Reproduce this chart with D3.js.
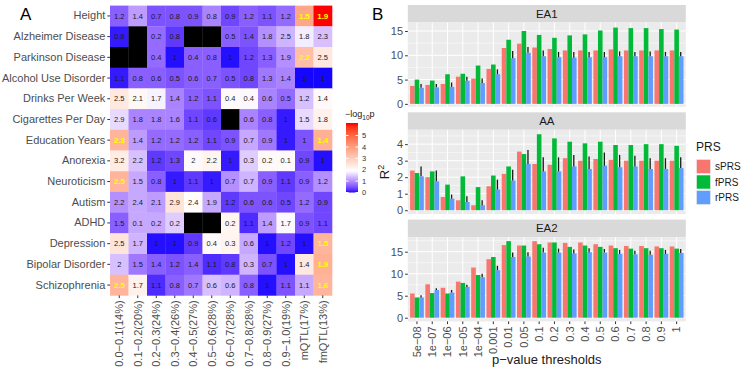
<!DOCTYPE html>
<html>
<head>
<meta charset="utf-8">
<script src="https://cdn.jsdelivr.net/npm/d3@7"></script>
<style>
  body { margin: 0; background: white; }
  text { font-family: "Liberation Sans", Arial, sans-serif; }
</style>
</head>
<body>
<div id="chart"></div>
<script>
// Panel A data
var traits = ["Height", "Alzheimer Disease", "Parkinson Disease", "Alcohol Use Disorder",
  "Drinks Per Week", "Cigarettes Per Day", "Education Years", "Anorexia", "Neuroticism",
  "Autism", "ADHD", "Depression", "Bipolar Disorder", "Schizophrenia"];

var bins = ["0.0−0.1(14%)", "0.1−0.2(20%)", "0.2−0.3(24%)", "0.3−0.4(26%)", "0.4−0.5(27%)",
  "0.5−0.6(28%)", "0.6−0.7(28%)", "0.7−0.8(28%)", "0.8−0.9(27%)", "0.9−1.0(19%)",
  "mQTL(17%)", "fmQTL(13%)"];

// number printed in the cell (null = no data)
var foldValues = [
  [1.2, 1.4, 0.7, 0.8, 0.9, 0.8, 0.9, 1.2, 1.1, 1.2, 1.5, 1.9],
  [0.8, null, 0.2, 0.8, null, null, 0.5, 1.4, 1.8, 2.5, 1.8, 2.3],
  [null, null, 0.4, 1, 0.4, 0.8, 1, 1.2, 1.3, 1.9, 2.2, 2.5],
  [1.1, 0.8, 0.6, 0.5, 0.6, 0.7, 0.5, 0.8, 1.3, 1.4, 1, 1],
  [2.5, 2.1, 1.7, 1.4, 1.2, 1.1, 0.4, 0.4, 0.6, 0.5, 1.2, 1.4],
  [2.9, 1.8, 1.8, 1.6, 1.1, 0.6, null, 0.6, 0.8, 1, 1.5, 1.8],
  [2.3, 1.4, 1.2, 1.2, 1.2, 1.1, 0.9, 0.7, 0.9, 1, 1, 1.4],
  [3.2, 2.2, 1.2, 1.3, 2, 2.2, 1, 0.3, 0.2, 0.1, 0.9, 1],
  [2.5, 1.5, 0.8, 1, 1.1, 1, 0.7, 0.7, 0.9, 1.1, 0.9, 1.2],
  [2.2, 2.4, 2.1, 2.9, 2.4, 1.9, 1.2, 0.6, 0.6, 0.5, 1.2, 0.9],
  [1.5, 0.1, 0.2, 0.2, null, null, 0.2, 1.1, 1.4, 1.7, 0.9, 1.1],
  [2.5, 1.7, 1, 1, 0.9, 0.4, 0.3, 0.6, 1, 1.2, 1, 1.5],
  [2, 1.5, 1.4, 1.2, 1.4, 1.1, 0.8, 0.3, 0.7, 1, 1.4, 1.9],
  [2.5, 1.7, 1.1, 0.8, 0.7, 0.6, 0.6, 0.8, 1, 1.1, 1.1, 1.6]
];

// -log10 p (cell colour)
var logP = [
  [0.6, 1.1, 0.5, 0.5, 0.5, 0.9, 0.4, 0.6, 0.5, 0.7, 3.8, 6.0],
  [0.1, null, 0.7, 0.3, null, null, 0.6, 0.5, 1.0, 1.3, 1.75, 1.4],
  [null, null, 0.7, 0.05, 0.6, 0.6, 0.05, 0.4, 0.6, 1.0, 3.3, 2.4],
  [0.1, 0.6, 0.6, 0.5, 0.6, 0.6, 0.5, 0.4, 0.8, 0.9, 0.02, 0.02],
  [2.4, 2.05, 1.8, 0.9, 0.6, 0.5, 2.0, 1.85, 0.9, 0.7, 1.4, 2.0],
  [1.6, 0.9, 0.9, 0.9, 0.4, 0.3, null, 0.9, 0.6, 0.1, 1.6, 2.2],
  [3.5, 1.1, 0.7, 0.7, 0.6, 0.4, 0.5, 1.2, 0.8, 0.1, 0.5, 3.6],
  [2.3, 1.4, 0.3, 0.4, 2.0, 2.15, 0.1, 1.5, 2.0, 2.0, 0.4, 0.05],
  [3.5, 1.2, 0.6, 0.1, 0.3, 0.1, 1.0, 1.3, 0.6, 0.3, 0.6, 1.0],
  [1.0, 1.2, 1.1, 2.5, 1.95, 1.2, 0.3, 0.5, 0.5, 0.4, 0.7, 0.4],
  [0.6, 1.2, 1.2, 1.5, null, null, 2.1, 0.2, 1.1, 1.85, 0.5, 0.4],
  [2.5, 1.3, 0.05, 0.05, 0.3, 2.0, 2.15, 1.2, 0.05, 0.4, 0.05, 3.5],
  [1.4, 0.8, 0.6, 0.5, 0.6, 0.2, 0.3, 1.3, 0.5, 0.05, 2.4, 3.6],
  [3.5, 2.2, 0.2, 0.6, 0.8, 1.4, 1.3, 0.6, 0.05, 0.5, 1.2, 3.5]
];
var legendTicks = [0, 1, 2, 3, 4, 5];

// Panel B data
var thresholds = ["5e−08", "1e−07", "1e−06", "1e−05", "1e−04", "0.001", "0.01", "0.05",
  "0.1", "0.2", "0.3", "0.4", "0.5", "0.6", "0.7", "0.8", "0.9", "1"];
var prsTypes = ["sPRS", "fPRS", "rPRS"];
var cohorts = ["EA1", "AA", "EA2"];

var ea1_s = [3.7, 3.9, 4.1, 5.6, 5.2, 7.2, 11.5, 12.4, 11.6, 11.3, 11.0, 11.0, 11.0, 11.2, 11.0, 11.0, 11.0, 11.0];
var ea1_f = [5.0, 4.8, 6.1, 6.2, 7.9, 8.1, 13.2, 15.0, 14.2, 13.6, 14.1, 14.3, 15.1, 15.7, 15.6, 15.6, 15.4, 15.3];
var ea1_r = [3.3, 3.4, 3.5, 4.75, 4.3, 6.1, 9.4, 10.5, 9.8, 9.6, 9.5, 9.6, 9.6, 9.8, 9.8, 9.8, 9.8, 9.8];
var ea1_rTop = [4.1, 4.1, 4.4, 5.6, 5.2, 7.1, 10.9, 11.7, 11.0, 10.7, 10.7, 10.7, 10.7, 10.8, 10.7, 10.8, 10.7, 10.7];

var aa_s = [2.4, 2.0, 0.8, 0.6, 0.3, 1.45, 2.2, 3.55, 2.8, 2.75, 3.15, 3.0, 3.1, 3.05, 3.0, 3.0, 3.0, 3.0];
var aa_f = [2.25, 2.35, 1.55, 2.05, 1.4, 2.1, 2.65, 3.4, 4.6, 4.35, 4.15, 4.05, 4.15, 3.95, 3.95, 4.0, 4.0, 3.9];
var aa_r = [2.05, 1.75, 0.7, 0.5, 0.3, 1.25, 1.8, 2.8, 2.35, 2.35, 2.65, 2.5, 2.7, 2.6, 2.65, 2.5, 2.5, 2.55];
var aa_rTop = [2.65, 2.4, 0.95, 0.85, 0.6, 1.85, 2.45, 3.65, 3.2, 3.2, 3.35, 3.25, 3.5, 3.35, 3.3, 3.15, 3.15, 3.2];

var ea2_s = [5.5, 7.6, 6.8, 8.2, 11.4, 13.3, 16.5, 16.4, 17.4, 17.1, 17.0, 17.1, 16.7, 16.4, 16.3, 16.3, 16.2, 16.2];
var ea2_f = [4.6, 5.6, 5.5, 7.9, 9.7, 13.8, 17.4, 16.4, 16.7, 17.1, 16.1, 16.4, 16.1, 15.8, 15.7, 15.8, 15.8, 15.7];
var ea2_r = [4.6, 6.3, 5.7, 7.0, 9.2, 10.8, 13.8, 13.9, 14.8, 14.8, 14.6, 14.9, 14.8, 14.5, 14.4, 14.3, 14.5, 14.7];
var ea2_rTop = [5.1, 6.7, 6.3, 7.5, 10.0, 11.8, 14.8, 14.9, 15.9, 15.7, 15.5, 15.8, 15.6, 15.4, 15.2, 15.2, 15.4, 15.6];

var W = 747, H = 369;
var svg = d3.select("#chart").append("svg")
    .attr("width", W)
    .attr("height", H)
    .style("background-color", "white");

var axisGrey = "#4D4D4D", tickGrey = "#333333";

/* ---------- Panel A: heatmap ---------- */
var hm = {left: 110, top: 5.6, right: 332, bottom: 295.4};

var xHm = d3.scaleBand().domain(bins).range([hm.left, hm.right]);
var yHm = d3.scaleBand().domain(traits).range([hm.top, hm.bottom]);
var fill = d3.scaleLinear()
    .domain([0, 1.9, 6])
    .range(["#0000FF", "#FFFFFF", "#FF0000"])
    .interpolate(d3.interpolateLab)
    .clamp(true);

var cells = [];
traits.forEach(function(t, i) {
  bins.forEach(function(b, j) {
    cells.push({trait: t, bin: b, v: foldValues[i][j], p: logP[i][j]});
  });
});

var gA = svg.append("g");
gA.selectAll("rect.cell")
  .data(cells)
  .enter().append("rect")
    .attr("class", "cell")
    .attr("x", function(d) { return xHm(d.bin); })
    .attr("y", function(d) { return yHm(d.trait); })
    .attr("width", xHm.bandwidth() + 0.3)
    .attr("height", yHm.bandwidth() + 0.3)
    .attr("fill", function(d) { return d.p === null ? "#000000" : fill(d.p); });

gA.selectAll("text.val")
  .data(cells.filter(function(d) { return d.v !== null; }))
  .enter().append("text")
    .attr("class", "val")
    .attr("x", function(d) { return xHm(d.bin) + xHm.bandwidth() / 2; })
    .attr("y", function(d) { return yHm(d.trait) + yHm.bandwidth() / 2; })
    .attr("dy", "0.35em")
    .attr("text-anchor", "middle")
    .style("font-size", function(d) { return d.p > 3 ? "8px" : "7.5px"; })
    .style("font-weight", function(d) { return d.p > 3 ? "bold" : "normal"; })
    .attr("fill", function(d) { return d.p > 3 ? "#FFFF00" : "#1A1A1A"; })
    .text(function(d) { return d.v; });

var yAxisA = gA.append("g")
    .attr("transform", "translate(" + hm.left + ",0)")
    .call(d3.axisLeft(yHm).tickSize(2.7).tickPadding(2));
yAxisA.select(".domain").remove();
yAxisA.selectAll("line").attr("stroke", tickGrey);
yAxisA.selectAll("text").attr("fill", axisGrey).style("font-size", "11px")
    .style("font-family", "Liberation Sans, Arial, sans-serif");

var xAxisA = gA.append("g")
    .attr("transform", "translate(0," + hm.bottom + ")")
    .call(d3.axisBottom(xHm).tickSize(2.7).tickPadding(2));
xAxisA.select(".domain").remove();
xAxisA.selectAll("line").attr("stroke", tickGrey);
xAxisA.selectAll("text")
    .attr("fill", axisGrey)
    .style("font-size", "11px")
    .style("font-family", "Liberation Sans, Arial, sans-serif")
    .attr("text-anchor", "end")
    .attr("transform", "rotate(-90)")
    .attr("x", -5)
    .attr("y", 0)
    .attr("dy", "0.35em");

svg.append("text").attr("x", 20).attr("y", 20)
    .style("font-size", "17px").text("A");

// colour bar
var lgScale = d3.scaleLinear().domain([0, 6.1]).range([192.5, 123]);
var grad = svg.append("defs").append("linearGradient")
    .attr("id", "lgGrad").attr("x1", 0).attr("y1", 1).attr("x2", 0).attr("y2", 0);
d3.range(0, 6.11, 0.1).forEach(function(v) {
  grad.append("stop").attr("offset", v / 6.1).attr("stop-color", fill(v));
});
svg.append("rect")
    .attr("x", 346).attr("y", lgScale(6.1))
    .attr("width", 12).attr("height", lgScale(0) - lgScale(6.1))
    .attr("fill", "url(#lgGrad)");
legendTicks.forEach(function(t) {
  svg.append("line").attr("x1", 346).attr("x2", 348.5)
      .attr("y1", lgScale(t)).attr("y2", lgScale(t)).attr("stroke", "white");
  svg.append("line").attr("x1", 355.5).attr("x2", 358)
      .attr("y1", lgScale(t)).attr("y2", lgScale(t)).attr("stroke", "white");
  svg.append("text").attr("x", 362).attr("y", lgScale(t)).attr("dy", "0.35em")
      .style("font-size", "7.5px").attr("fill", "#333").text(t);
});
var lgTitle = svg.append("text").attr("x", 345).attr("y", 117)
    .style("font-size", "9px").attr("fill", "#1A1A1A");
lgTitle.append("tspan").text("−log");
lgTitle.append("tspan").attr("dy", 2.5).style("font-size", "6.5px").text("10");
lgTitle.append("tspan").attr("dy", -2.5).text("p");

/* ---------- Panel B: faceted bars ---------- */
var bLeft = 407.8, bRight = 685.8;
var x = d3.scaleBand().domain(thresholds).range([bLeft, bRight]).paddingInner(0).paddingOuter(0.1);
var step = x.step(), barW = step * 0.3;
var color = d3.scaleOrdinal().domain(prsTypes).range(["#F8766D", "#00BA38", "#619CFF"]);

var panels = [
  {name: "EA1", top: 5, s: ea1_s, f: ea1_f, r: ea1_r, rTop: ea1_rTop, domain: [-0.6, 16.75], ticks: [0, 5, 10, 15], minor: [2.5, 7.5, 12.5]},
  {name: "AA", top: 112.3, s: aa_s, f: aa_f, r: aa_r, rTop: aa_rTop, domain: [-0.236, 4.87], ticks: [0, 1, 2, 3, 4], minor: [0.5, 1.5, 2.5, 3.5, 4.5]},
  {name: "EA2", top: 219.6, s: ea2_s, f: ea2_f, r: ea2_r, rTop: ea2_rTop, domain: [-0.84, 18.32], ticks: [0, 5, 10, 15], minor: [2.5, 7.5, 12.5, 17.5]}
];
var stripH = 17.5, plotH = 84.3;

panels.forEach(function(p, k) {
  var g = svg.append("g");
  var pTop = p.top + stripH;
  var yScale = d3.scaleLinear().domain(p.domain).range([pTop + plotH, pTop]);

  g.append("rect").attr("x", bLeft).attr("y", p.top)
      .attr("width", bRight - bLeft).attr("height", stripH).attr("fill", "#D9D9D9");
  g.append("text").attr("x", (bLeft + bRight) / 2).attr("y", p.top + stripH / 2)
      .attr("dy", "0.35em").attr("text-anchor", "middle")
      .style("font-size", "11.5px").attr("fill", "#1A1A1A").text(p.name);

  g.append("rect").attr("x", bLeft).attr("y", pTop)
      .attr("width", bRight - bLeft).attr("height", plotH).attr("fill", "#EBEBEB");

  g.selectAll("line.minor").data(p.minor).enter().append("line")
      .attr("x1", bLeft).attr("x2", bRight)
      .attr("y1", function(d) { return yScale(d); }).attr("y2", function(d) { return yScale(d); })
      .attr("stroke", "white").attr("stroke-width", 0.5);
  g.selectAll("line.major").data(p.ticks).enter().append("line")
      .attr("x1", bLeft).attr("x2", bRight)
      .attr("y1", function(d) { return yScale(d); }).attr("y2", function(d) { return yScale(d); })
      .attr("stroke", "white").attr("stroke-width", 1);
  g.selectAll("line.vgrid").data(thresholds).enter().append("line")
      .attr("x1", function(d) { return x(d) + step / 2; }).attr("x2", function(d) { return x(d) + step / 2; })
      .attr("y1", pTop).attr("y2", pTop + plotH)
      .attr("stroke", "white").attr("stroke-width", 1);

  var rows = thresholds.map(function(t, i) {
    return {t: t, vals: [p.s[i], p.f[i], p.r[i]], rTop: p.rTop[i]};
  });

  rows.forEach(function(d) {
    g.selectAll(null).data(d.vals).enter().append("rect")
        .attr("x", function(v, j) { return x(d.t) + step * 0.05 + j * barW; })
        .attr("y", function(v) { return yScale(v); })
        .attr("width", barW)
        .attr("height", function(v) { return yScale(0) - yScale(v); })
        .attr("fill", function(v, j) { return color(prsTypes[j]); });
  });

  g.selectAll("line.err").data(rows).enter().append("line")
      .attr("x1", function(d) { return x(d.t) + step * 0.05 + 2.5 * barW - 0.5; })
      .attr("x2", function(d) { return x(d.t) + step * 0.05 + 2.5 * barW - 0.5; })
      .attr("y1", function(d) { return yScale(d.vals[2]); })
      .attr("y2", function(d) { return yScale(d.rTop); })
      .attr("stroke", "#1A1A1A").attr("stroke-width", 1.3);

  var ya = g.append("g").attr("transform", "translate(" + bLeft + ",0)")
      .call(d3.axisLeft(yScale).tickValues(p.ticks).tickFormat(d3.format("d")).tickSize(2.7).tickPadding(2));
  ya.select(".domain").remove();
  ya.selectAll("line").attr("stroke", tickGrey);
  ya.selectAll("text").attr("fill", axisGrey).style("font-size", "11px")
      .style("font-family", "Liberation Sans, Arial, sans-serif");

  if (k === panels.length - 1) {
    var xa = g.append("g").attr("transform", "translate(0," + (pTop + plotH) + ")")
        .call(d3.axisBottom(x).tickSize(2.7).tickPadding(2));
    xa.select(".domain").remove();
    xa.selectAll("line").attr("stroke", tickGrey);
    xa.selectAll("text")
        .attr("fill", axisGrey)
        .style("font-size", "11px")
        .style("font-family", "Liberation Sans, Arial, sans-serif")
        .attr("text-anchor", "end")
        .attr("transform", "rotate(-90)")
        .attr("x", -5)
        .attr("y", 0)
        .attr("dy", "0.35em");
  }
});

svg.append("text").attr("x", 372).attr("y", 20)
    .style("font-size", "17px").text("B");

svg.append("text").attr("x", (bLeft + bRight) / 2).attr("y", 364)
    .attr("text-anchor", "middle").style("font-size", "13px").attr("fill", "#1A1A1A")
    .text("p−value thresholds");

var rLab = svg.append("text")
    .attr("transform", "translate(389,172) rotate(-90)")
    .attr("text-anchor", "middle").style("font-size", "13px").attr("fill", "#1A1A1A");
rLab.append("tspan").text("R");
rLab.append("tspan").attr("dy", -5).style("font-size", "9px").text("2");

// legend
var lg = svg.append("g").attr("transform", "translate(696,143)");
lg.append("text").attr("x", 0).attr("y", 8).style("font-size", "12px").attr("fill", "#1A1A1A").text("PRS");
prsTypes.forEach(function(t, i) {
  var yy = 16 + i * 15.5;
  lg.append("rect").attr("x", 0).attr("y", yy).attr("width", 15).attr("height", 15).attr("fill", "#F2F2F2");
  lg.append("rect").attr("x", 0.8).attr("y", yy + 0.8).attr("width", 13.4).attr("height", 13.4).attr("fill", color(t));
  lg.append("text").attr("x", 19).attr("y", yy + 7.5).attr("dy", "0.35em")
      .style("font-size", "10px").attr("fill", "#1A1A1A").text(t);
});
</script>
</body>
</html>
